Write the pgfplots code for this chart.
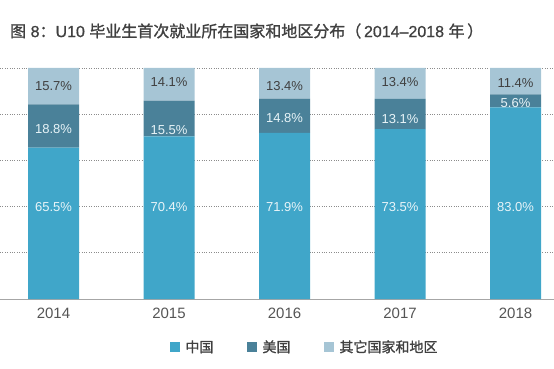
\documentclass[border=0pt]{standalone}
\usepackage{pgfplots}
\usepackage{pgfplotstable}
\pgfplotsset{compat=1.18}
\usepackage{fontspec}
\setmainfont{Liberation Sans}
\newfontfamily\cjk{Noto Sans CJK SC}
\newfontfamily\cjkm[FakeBold=1.2]{Noto Sans CJK SC}
\newfontfamily\latm[FakeBold=0.8]{Liberation Sans}
\definecolor{cnc}{HTML}{40A6C9}
\definecolor{usc}{HTML}{4A8199}
\definecolor{otc}{HTML}{A6C5D5}
\definecolor{txt}{HTML}{404040}
\definecolor{ticktxt}{HTML}{555555}
\definecolor{lighttxt}{HTML}{E8F4F8}

\pgfplotstableread{
x cn us ot cnpos uspos otpos
0 65.5 18.8 15.7 40 73.6 92.2
1 70.4 15.5 14.1 40 73.2 93.8
2 71.9 14.8 13.4 40 78.2 92.3
3 73.5 13.1 13.4 40 78.0 93.8
4 83.0 5.6 11.4 40 85.0 93.4
}\shares

\pgfplotsset{base/.style={scale only axis, width=554pt, height=231pt,
  at={(0pt,0pt)}, anchor=south west,
  xmin=-0.4632, xmax=4.3333, ymin=0, ymax=100}}

\begin{document}
\begin{tikzpicture}
\useasboundingbox (0pt,-70pt) rectangle (554pt,299pt);
\begin{axis}[base, ybar stacked, bar width=51pt,
  xtick={0,1,2,3,4}, xticklabels={2014,2015,2016,2017,2018},
  ytick={0,20,40,60,80,100}, yticklabels={},
  major tick length=0pt,
  ymajorgrids, grid style={dotted, black!45, line width=0.7pt},
  axis x line*=bottom, axis y line*=left,
  y axis line style={draw=none},
  x axis line style={gray!70, line width=0.9pt},
  xticklabel style={font=\fontsize{15}{15}\selectfont, text=ticktxt, yshift=-5pt},
  legend style={at={(0.5505,-0.2078)}, anchor=center, draw=none,
    font=\cjkm\fontsize{14}{14}\selectfont, text=txt,
    /tikz/every even column/.append style={column sep=32pt}},
  legend columns=3,
  legend image code/.code={\fill[#1] (0pt,-5pt) rectangle (10pt,5pt);},
]
\addplot[fill=cnc, draw=none] table[x=x, y=cn]{\shares};
\addlegendentry{\hspace{3pt}中国}
\addplot[fill=usc, draw=none] table[x=x, y=us]{\shares};
\addlegendentry{\hspace{3pt}美国}
\addplot[fill=otc, draw=none] table[x=x, y=ot]{\shares};
\addlegendentry{\hspace{3pt}其它国家和地区}
\end{axis}
\begin{axis}[base, hide axis,
  point meta=explicit,
  nodes near coords={\pgfmathprintnumber[fixed, fixed zerofill, precision=1, assume math mode=true]{\pgfplotspointmeta}\%},
  every node near coord/.append style={anchor=center, font=\fontsize{13}{13}\selectfont},
]
\addplot[draw=none, mark=none, every node near coord/.append style={text=lighttxt}] table[x=x, y=cnpos, meta=cn]{\shares};
\addplot[draw=none, mark=none, every node near coord/.append style={text=lighttxt}] table[x=x, y=uspos, meta=us]{\shares};
\addplot[draw=none, mark=none, every node near coord/.append style={text=txt}] table[x=x, y=otpos, meta=ot]{\shares};
\end{axis}
\node[anchor=west, text=txt, font=\latm\fontsize{16}{16}\selectfont, inner sep=0pt] at (10pt,268pt)
  {{\cjkm 图} 8{\cjkm ：}U10 {\cjkm 毕业生首次就业所在国家和地区分布（}\,2014–2018 {\cjkm 年}\,{\cjkm ）}};
\end{tikzpicture}
\end{document}
